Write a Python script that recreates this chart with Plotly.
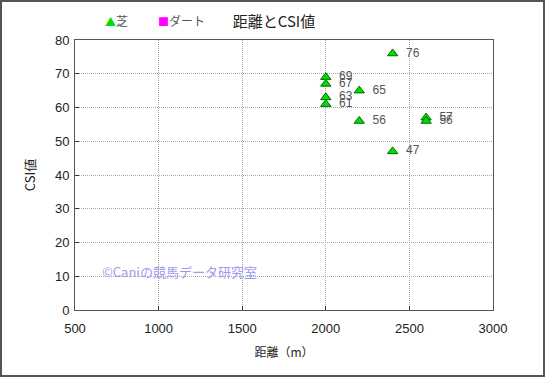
import plotly.graph_objects as go

turf_distance = [2000, 2000, 2000, 2000, 2200, 2200, 2400, 2400, 2600, 2600]
turf_csi = [69, 67, 63, 61, 65, 56, 76, 47, 57, 56]
dirt_distance = []
dirt_csi = []

x_ticks = [500, 1000, 1500, 2000, 2500, 3000]
y_ticks = [0, 10, 20, 30, 40, 50, 60, 70, 80]

W, H = 545, 377
L, R, T, B = 75, 52, 40, 67
pw, ph = W - L - R, H - T - B

TURF_COLOR = "#00dd00"
DIRT_COLOR = "#ff00ff"

fig = go.Figure()
fig.add_trace(go.Scatter(
    x=turf_distance, y=turf_csi, mode="markers+text", name="芝",
    text=["  " + str(v) for v in turf_csi], textposition="middle right",
    textfont=dict(family="Liberation Sans, Arial", size=12, color="#555555"),
    marker=dict(symbol="triangle-up", size=9, color=TURF_COLOR,
                line=dict(color="#006600", width=1)),
    cliponaxis=False, showlegend=False,
))
fig.add_trace(go.Scatter(
    x=dirt_distance, y=dirt_csi, mode="markers", name="ダート",
    marker=dict(symbol="square", size=9, color=DIRT_COLOR), showlegend=False,
))

axis_common = dict(
    showline=True, linecolor="#555555", linewidth=1, mirror=True,
    showgrid=True, gridcolor="#a8a8a8", griddash="1px,1px", gridwidth=1,
    ticks="inside", ticklen=4, tickcolor="#333333",
    tickfont=dict(family="Liberation Sans, Arial", size=13, color="#222222"),
    zeroline=False, automargin=False,
)

fig.update_layout(
    width=W, height=H,
    margin=dict(l=L, r=R, t=T, b=B),
    paper_bgcolor="white", plot_bgcolor="white",
    font=dict(family="Noto Sans CJK JP", color="#222222"),
    title=dict(text="距離とCSI値", x=274 / W, xanchor="center", y=1 - 22 / H, yanchor="middle",
               font=dict(family="Noto Sans CJK JP", size=15, color="#222222")),
    showlegend=False,
    xaxis=dict(range=[500, 3000], tickvals=x_ticks, ticklabelstandoff=6, title=dict(
        text="距離（m）", standoff=14, font=dict(family="Noto Sans CJK JP", size=12)), **axis_common),
    yaxis=dict(range=[0, 80], tickvals=y_ticks, ticklabelstandoff=2, title=dict(
        text="CSI値", standoff=16, font=dict(family="Noto Sans CJK JP", size=13)), **axis_common),
)

# legend drawn as text entries in the top margin
legend_items = [("芝", "▲", TURF_COLOR, 103), ("ダート", "■", DIRT_COLOR, 156)]
for name, sym, col, px in legend_items:
    fig.add_annotation(
        text=f'<span style="color:{col};font-size:11px">{sym}</span>{name}', xref="paper", yref="paper",
        x=(px - L) / pw, y=1 + (T - 20) / ph, xanchor="left", yanchor="middle",
        showarrow=False, font=dict(family="Noto Sans CJK JP", size=12, color="#555555"),
    )

fig.add_annotation(
    text="©Caniの競馬データ研究室", xref="paper", yref="paper",
    x=(100 - L) / pw, y=(310 - 271) / ph, xanchor="left", yanchor="middle",
    showarrow=False, font=dict(family="Noto Sans CJK JP", size=13, color="#9a9af0"),
)

fig.add_shape(
    type="rect", xref="paper", yref="paper",
    x0=-(L - 1) / pw, x1=(W - L - 1) / pw, y0=-(B - 1) / ph, y1=1 + (T - 1) / ph,
    line=dict(color="#555555", width=2), layer="above",
)

fig.write_html(
    "out.html",
    config={"displayModeBar": False},
    post_script="document.body.style.margin='0';document.body.style.overflow='hidden';",
)
